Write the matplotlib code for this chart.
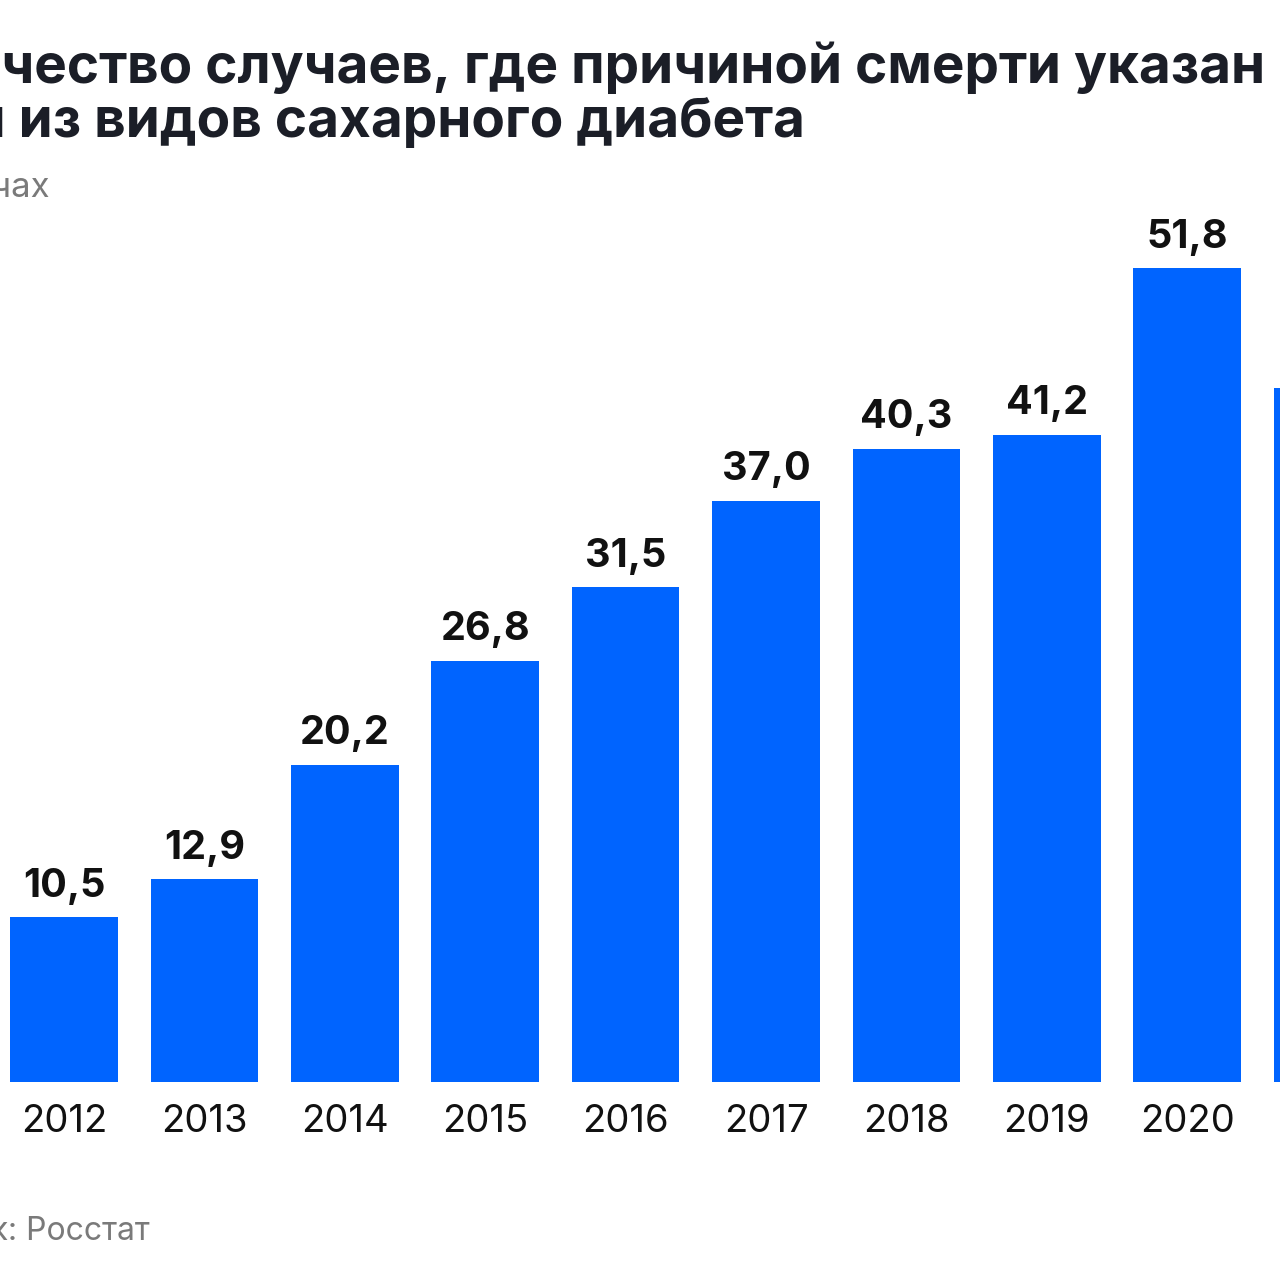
import matplotlib
matplotlib.use("Agg")
import matplotlib.pyplot as plt

# data (thousands of deaths)
years = ["2012", "2013", "2014", "2015", "2016", "2017", "2018", "2019", "2020", "2021"]
values = [10.5, 12.9, 20.2, 26.8, 31.5, 37.0, 40.3, 41.2, 51.8, 44.2]

title_1 = "Количество случаев, где причиной смерти указан"
title_2 = "один из видов сахарного диабета"
subtitle = "В тысячах"
source = "Источник: Росстат"

BLUE = "#0064ff"
DARK = "#1b1e27"
GRAY = "#7a7a7a"

plt.rcParams["font.family"] = ["Inter", "DejaVu Sans"]

fig = plt.figure(figsize=(12.8, 12.8), dpi=100)
W = H = 1280.0

# axes spans the full width; bars at 140.4 px spacing, first centre at 64 px
ax = fig.add_axes([0, 1 - 1082 / H, 1, 882 / H])
step = 140.4

x = list(range(len(years)))
ax.bar(x, values, width=0.765, color=BLUE)

for xi, v in zip(x, values):
    ax.annotate(f"{v:.1f}".replace(".", ","), (xi, v), xytext=(0, 9),
                textcoords="offset points", ha="center", va="bottom",
                fontsize=28.5, fontweight="bold", color="#111111",
                annotation_clip=False)

ax.set_xticks(x)
ax.set_xticklabels(years, fontsize=27.5, color="#111111")
ax.tick_params(axis="x", length=0, pad=16)
ax.set_yticks([])
for s in ax.spines.values():
    s.set_visible(False)

# limits after ticks, so set_xticks does not widen the view
ax.set_xlim(-64 / step, (W - 64) / step)
ax.set_ylim(0, 882 / 15.71)

# header texts, cut at the left edge like the source image
fig.text(1265 / W, 1 - 83 / H, title_1, ha="right", va="baseline",
         fontsize=39.5, fontweight="bold", color=DARK)
fig.text(805 / W, 1 - 137 / H, title_2, ha="right", va="baseline",
         fontsize=39.5, fontweight="bold", color=DARK)
fig.text(50 / W, 1 - 197 / H, subtitle, ha="right", va="baseline",
         fontsize=25, color=GRAY)
fig.text(150 / W, 1 - 1240 / H, source, ha="right", va="baseline",
         fontsize=23, color=GRAY)

fig.savefig("out.png", dpi=100)
